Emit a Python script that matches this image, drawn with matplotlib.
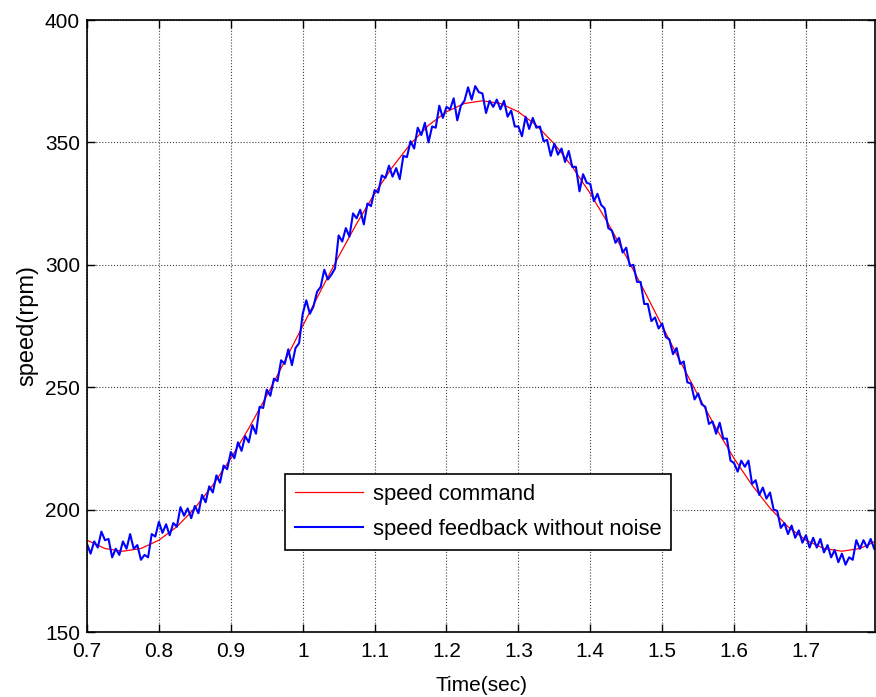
import numpy as np
import matplotlib
matplotlib.use("Agg")
from matplotlib import pyplot as plt
from matplotlib.ticker import FormatStrFormatter

plt.rcParams['font.family'] = ['Liberation Sans', 'DejaVu Sans']

# speed command, sampled every 0.025 s from 0.7 s
cmd_t0, cmd_dt = 0.7, 0.025
speed_cmd = [187.5, 184.1, 183.0, 184.1, 187.5, 193.0, 200.6, 210.0, 220.9, 233.2,
             246.6, 260.6, 275.0, 289.4, 303.4, 316.8, 329.1, 340.0, 349.4, 357.0,
             362.5, 365.9, 367.0, 365.9, 362.5, 357.0, 349.4, 340.0, 329.1, 316.8,
             303.4, 289.4, 275.0, 260.6, 246.6, 233.2, 220.9, 210.0, 200.6, 193.0,
             187.5, 184.1, 183.0, 184.1, 187.5]

# measured speed feedback, sampled every 0.005 s from 0.7 s
fb_t0, fb_dt = 0.7, 0.005
speed_fb = [186, 182, 187, 184.5, 191, 187.5, 188, 180.5, 184, 181.5,
            187, 184, 190, 184, 185.5, 179.5, 181.5, 180.5, 190, 189,
            195, 190.5, 194, 189.5, 194.5, 193, 201, 197.5, 200.5, 196.5,
            201.5, 198.5, 206, 203, 209.5, 207, 214, 211, 218, 216.5,
            223.5, 221, 227.5, 224, 230, 227.5, 234.5, 231, 242, 241.5,
            249, 246.5, 253.5, 252.5, 261, 259.5, 265.5, 259, 266, 268,
            280, 285.5, 280, 283, 289, 291, 298, 294, 296, 298.5,
            312, 309.5, 315, 311.5, 321, 319, 322.5, 316.5, 325, 324,
            330.5, 329.5, 336.5, 335.5, 340.5, 336, 339.5, 335, 344.5, 344,
            350.5, 347.5, 356, 353, 358, 350, 356.5, 356, 365, 360,
            364.5, 363.5, 368, 359, 365, 367, 372.5, 367.5, 373, 370.5,
            370, 362, 367, 364.5, 367.5, 363.5, 367, 360.5, 363, 356.5,
            356.5, 352.5, 360.5, 355.5, 360, 356, 356.5, 350.5, 351, 344.5,
            349.5, 345, 347.5, 342, 346.5, 340, 340, 330, 337, 333.5,
            333, 326, 329, 324.5, 323, 315, 314, 309, 311, 305,
            307, 299.5, 300, 293, 293, 284, 284, 277, 278.5, 274,
            276, 270.5, 269.5, 263.5, 266, 259.5, 260.5, 252, 251.5, 245,
            247.5, 243, 242, 235, 236, 231, 235.5, 229, 229, 220,
            219, 215.5, 220, 217.5, 220, 210.5, 212, 206, 209, 204.5,
            207, 200, 199.5, 192.5, 194.5, 190, 193.5, 188.5, 191.5, 186.5,
            189.5, 184.5, 188.5, 184.5, 188, 182.5, 185.5, 180.5, 183.5, 178.5,
            182, 177.5, 180.5, 179.5, 187.5, 184, 187.5, 184.5, 188, 184]

x_ticks = [0.7, 0.8, 0.9, 1.0, 1.1, 1.2, 1.3, 1.4, 1.5, 1.6, 1.7]
y_ticks = [150, 200, 250, 300, 350, 400]

t_cmd = cmd_t0 + cmd_dt * np.arange(len(speed_cmd))
t_fb = fb_t0 + fb_dt * np.arange(len(speed_fb))

fig = plt.figure(figsize=(8.76, 6.97), dpi=100)
ax = fig.add_axes([87 / 876, 65 / 697, 788 / 876, 612 / 697])

ax.plot(t_cmd, speed_cmd, color='r', linewidth=0.9, label='speed command')
ax.plot(t_fb, speed_fb, color='b', linewidth=1.5, label='speed feedback without noise')

ax.set_xlim(0.7, 1.796)
ax.set_ylim(150, 400)
ax.set_xticks(x_ticks)
ax.set_yticks(y_ticks)
ax.xaxis.set_major_formatter(FormatStrFormatter('%g'))
ax.grid(True, color='0.25', linestyle=':', linewidth=0.8)
ax.tick_params(direction='in', length=6, width=1, labelsize=15, top=True, right=True)
ax.tick_params(axis='x', pad=7)
ax.tick_params(axis='y', pad=5)
for s in ax.spines.values():
    s.set_linewidth(1.2)

ax.set_xlabel('Time(sec)', fontsize=15, labelpad=11)
ax.set_ylabel('speed(rpm)', fontsize=17, labelpad=5)

leg = ax.legend(loc='lower left', bbox_to_anchor=(0.251, 0.134), borderaxespad=0,
                prop={'size': 15.8}, fancybox=False, framealpha=1, edgecolor='k',
                handlelength=3.1, handletextpad=0.45, labelspacing=0.66, borderpad=0.45)
leg.get_frame().set_linewidth(1.2)

fig.savefig('out.png', dpi=100)
